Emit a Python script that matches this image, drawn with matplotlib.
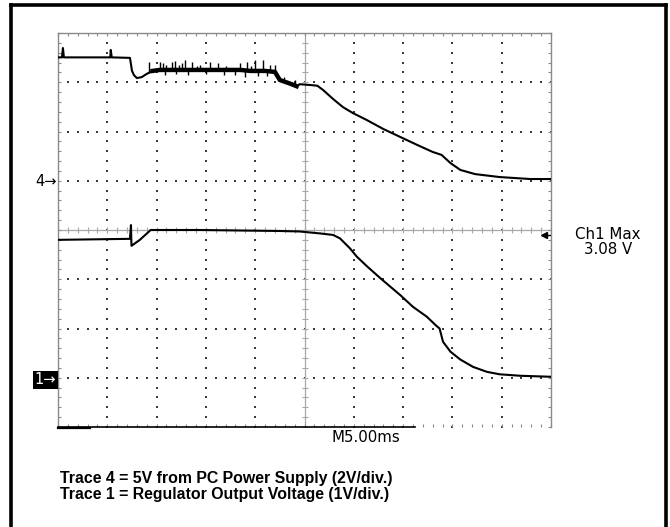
import numpy as np
import matplotlib
matplotlib.use("Agg")
import matplotlib.pyplot as plt
from matplotlib.lines import Line2D

# ── Scope settings ────────────────────────────────────────────────────────────
MS_PER_DIV = 5.0
CH4_V_PER_DIV, CH4_GND_DIV = 2.0, 1.0     # trace 4: 2 V/div, ground marker at +1 div
CH1_V_PER_DIV, CH1_GND_DIV = 1.0, -3.0    # trace 1: 1 V/div, ground marker at -3 div

# ── Trace 4 : 5V from PC power supply (time ms, volts) ────────────────────────
t4 = [0.0, 0.4, 0.5, 0.6, 5.3, 5.35, 5.45, 7.3, 7.5, 7.7, 8.0, 8.5, 9.0, 9.6,
      10.3, 14.0, 18.5, 19.5, 21.0, 22.0, 22.5, 23.5, 24.2, 24.5, 25.5, 26.3,
      26.9, 27.9, 28.9, 29.9, 31.3, 33.0, 34.7, 36.4, 38.0, 38.9, 39.8, 40.8,
      42.3, 44.8, 47.9, 50.0]
v4 = [5.01, 5.01, 5.39, 5.01, 5.01, 5.31, 5.01, 4.99, 4.47, 4.29, 4.17, 4.21,
      4.34, 4.46, 4.50, 4.50, 4.50, 4.46, 4.46, 4.42, 4.09, 3.95, 3.84, 3.92,
      3.89, 3.86, 3.68, 3.32, 2.99, 2.75, 2.47, 2.10, 1.78, 1.46, 1.17, 1.05,
      0.72, 0.44, 0.27, 0.15, 0.07, 0.07]

# noisy band on trace 4 (ms) and the spikes riding on it (ms, peak volts)
t4_band = [9.6, 10.3, 14.0, 18.5, 19.5, 21.0, 22.0, 22.5, 23.5, 24.2]
v4_band = [4.46, 4.50, 4.50, 4.50, 4.46, 4.46, 4.42, 4.09, 3.95, 3.84]
spike_t = [9.2, 10.3, 10.6, 11.0, 11.6, 11.9, 12.3, 12.6, 12.9, 13.6, 14.1,
           14.4, 15.4, 16.2, 17.0, 18.5, 19.2, 19.6, 20.0, 20.8, 21.5, 22.0,
           22.9, 24.0]
spike_v = [4.82, 4.82, 4.78, 4.70, 4.82, 4.86, 4.72, 4.78, 4.90, 4.82, 4.68,
           4.70, 4.82, 4.78, 4.66, 4.78, 4.82, 4.68, 4.90, 4.90, 4.72, 4.70,
           4.20, 4.10]
dip_t = [10.9, 12.0, 13.2, 15.0, 16.8, 18.0, 19.0, 20.3, 21.2]
dip_v = [4.30, 4.32, 4.30, 4.34, 4.30, 4.28, 4.22, 4.26, 4.24]

# ── Trace 1 : regulator output (time ms, volts) ───────────────────────────────
t1 = [0.0, 7.1, 7.3, 7.4, 7.45, 7.6, 8.3, 9.4, 14.4, 22.5, 24.5, 26.6, 27.9,
      28.6, 29.6, 30.3, 31.3, 32.7, 34.7, 36.0, 37.4, 38.4, 38.7, 39.05, 39.8,
      40.8, 42.1, 43.5, 44.8, 46.9, 50.0]
v1 = [2.80, 2.82, 2.82, 3.10, 2.68, 2.70, 2.80, 3.00, 3.00, 2.98, 2.97, 2.93,
      2.90, 2.83, 2.63, 2.46, 2.27, 2.02, 1.68, 1.44, 1.24, 1.05, 1.00, 0.73,
      0.53, 0.37, 0.22, 0.12, 0.07, 0.04, 0.02]

CH1_MAX = 3.08
TIMEBASE_LABEL = "M5.00ms"
CAPTIONS = ["Trace 4 = 5V from PC Power Supply (2V/div.)",
            "Trace 1 = Regulator Output Voltage (1V/div.)"]


def to_div(t, v, vdiv, gnd):
    return np.asarray(t) / MS_PER_DIV, np.asarray(v) / vdiv + gnd


# ── Figure ────────────────────────────────────────────────────────────────────
W, H = 670, 527
fig = plt.figure(figsize=(W / 100, H / 100), dpi=100)
ax = fig.add_axes([58 / W, 1 - 427 / H, 493 / W, 394 / H])
ax.set_xlim(0, 10)
ax.set_ylim(-4, 4)

grid_c = "#8a8a8a"
for side in ("top", "left", "right"):
    ax.spines[side].set_color(grid_c)
    ax.spines[side].set_linewidth(1.0)
ax.spines["bottom"].set_visible(False)

ax.set_xticks([])
ax.set_yticks([])
ax.set_xticks(np.arange(0, 10.01, 0.2), minor=True)
ax.set_yticks(np.arange(-4, 4.01, 0.2), minor=True)
ax.tick_params(which="minor", direction="in", length=2.5, width=0.8,
               color=grid_c, top=True, right=True, bottom=True, left=True,
               labelbottom=False, labelleft=False)

# dotted graticule
fine = np.arange(0, 10.01, 0.2)
fine_y = np.arange(-4, 4.01, 0.2)
for gx in [1, 2, 3, 4, 6, 7, 8, 9]:
    ax.scatter(np.full_like(fine_y, gx), fine_y, s=0.75, marker="s",
               color="#3a3a3a", linewidths=0, zorder=1)
for gy in [-3, -2, -1, 1, 2, 3]:
    ax.scatter(fine, np.full_like(fine, gy), s=0.75, marker="s",
               color="#3a3a3a", linewidths=0, zorder=1)

# centre crosshair with minor ticks
ax.axhline(0, color="#a8a8a8", lw=0.9, zorder=1)
ax.axvline(5, color="#a8a8a8", lw=0.9, zorder=1)
ax.plot(fine, np.zeros_like(fine), ls="none", marker="|", ms=4,
        mew=0.8, color="#a8a8a8", zorder=1)
ax.plot(np.full_like(fine_y, 5), fine_y, ls="none", marker="_", ms=4,
        mew=0.8, color="#a8a8a8", zorder=1)

# bottom record bar
ax.plot([0, 7.24], [-4, -4], color="black", lw=1.2, clip_on=False, zorder=5)
ax.plot([0, 0.65], [-4.02, -4.02], color="black", lw=1.6, clip_on=False, zorder=5)

# traces
x4, y4 = to_div(t4, v4, CH4_V_PER_DIV, CH4_GND_DIV)
ax.plot(x4, y4, color="black", lw=1.5, zorder=4)
xb, yb = to_div(t4_band, v4_band, CH4_V_PER_DIV, CH4_GND_DIV)
ax.plot(xb, yb, color="black", lw=3.2, zorder=4)
xs, ys = to_div(spike_t, spike_v, CH4_V_PER_DIV, CH4_GND_DIV)
_, ybase = to_div(spike_t, np.interp(spike_t, t4, v4), CH4_V_PER_DIV, CH4_GND_DIV)
ax.vlines(xs, ybase, ys, color="black", lw=1.0, zorder=4)
xd, yd = to_div(dip_t, dip_v, CH4_V_PER_DIV, CH4_GND_DIV)
_, ydbase = to_div(dip_t, np.interp(dip_t, t4, v4), CH4_V_PER_DIV, CH4_GND_DIV)
ax.vlines(xd, yd, ydbase, color="black", lw=1.0, zorder=4)

x1, y1 = to_div(t1, v1, CH1_V_PER_DIV, CH1_GND_DIV)
ax.plot(x1, y1, color="black", lw=1.5, zorder=4)

# trigger-level marker on the right edge
ax.plot([9.86, 10], [-0.1, -0.1], color="black", lw=1.0, zorder=5)
ax.plot([9.86], [-0.1], marker="<", ms=5, color="black", zorder=5)

# ── Text ──────────────────────────────────────────────────────────────────────
def fx(px):
    return px / W


def fy(py):
    return 1 - py / H


fig.text(fx(57), fy(182), "4\u2192", ha="right", va="center", fontsize=10.5)
fig.text(fx(56), fy(380), "1\u2192", ha="right", va="center", fontsize=10.5,
         color="white",
         bbox=dict(boxstyle="square,pad=0.12", fc="black", ec="none"))

fig.text(fx(608), fy(242), f"Ch1 Max\n{CH1_MAX:.2f} V", ha="center",
         va="center", fontsize=10.8, linespacing=0.92)
fig.text(fx(366), fy(437), TIMEBASE_LABEL, ha="center", va="center",
         fontsize=10.8)

cap_font = ["Liberation Sans Narrow", "Liberation Sans", "DejaVu Sans"]
fig.text(fx(60), fy(483), CAPTIONS[0], ha="left", va="baseline",
         fontsize=11.4, fontweight="bold", family=cap_font)
fig.text(fx(60), fy(499), CAPTIONS[1], ha="left", va="baseline",
         fontsize=11.4, fontweight="bold", family=cap_font)

# outer frame (open at the bottom edge)
frame = dict(color="black", lw=2.6, transform=fig.transFigure, clip_on=False)
fig.add_artist(Line2D([fx(10.5), fx(10.5)], [fy(5), fy(530)], **frame))
fig.add_artist(Line2D([fx(10.5), fx(666)], [fy(5), fy(5)], **frame))
fig.add_artist(Line2D([fx(666), fx(666)], [fy(5), fy(530)], **frame))

fig.savefig("out.png", dpi=100)
